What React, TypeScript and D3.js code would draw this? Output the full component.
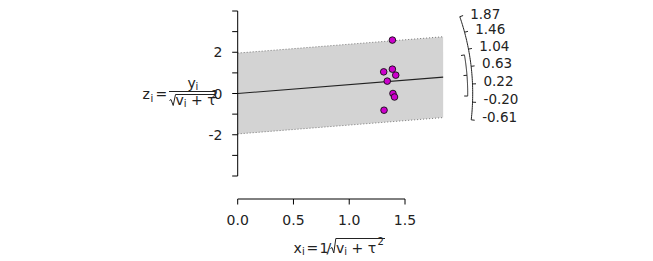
import React from "react";
import * as d3 from "d3";

// ---- data ----
const xiValues = [1.387, 1.309, 1.387, 1.417, 1.341, 1.392, 1.406, 1.312];
const ziValues = [2.59, 1.05, 1.18, 0.89, 0.6, 0.0, -0.17, -0.81];
const estimate = 0.43;
const ciBounds = [-0.06, 0.92];
const arcTickValues = [1.87, 1.46, 1.04, 0.63, 0.22, -0.2, -0.61];
const arcTickLabels = ["1.87", "1.46", "1.04", "0.63", "0.22", "-0.20", "-0.61"];
const yTickValues = [-4, -3, -2, -1, 0, 1, 2, 3, 4];
const yLabelValues = [-2, 0, 2];
const xTickValues = [0, 0.5, 1.0, 1.5];
const xTickLabels = ["0.0", "0.5", "1.0", "1.5"];
const zCrit = 1.96;

const W = 653;
const H = 261;
const FONT = "DejaVu Sans, Verdana, sans-serif";
const FS = 14;
const SUB = 10;

export default function App() {
  const x = d3.scaleLinear().domain([0, 1.5]).range([237.7, 405]);
  const y = d3.scaleLinear().domain([-4, 4]).range([176, 11]);
  const xMax = d3.max(xiValues)! * 1.3;

  const cx = x(0);
  const cy = y(0);
  const sx = x(1) - x(0);
  const sy = y(0) - y(1);
  const ang = (t: number) => Math.atan2(sy * t, sx);
  const pt = (t: number, r: number): [number, number] => {
    const a = ang(t);
    return [cx + r * Math.cos(a), cy - r * Math.sin(a)];
  };
  const arcPath = (t0: number, t1: number, r: number) => {
    const n = 60;
    const pts: [number, number][] = [];
    for (let i = 0; i <= n; i++) pts.push(pt(t0 + ((t1 - t0) * i) / n, r));
    return d3.line()(pts)!;
  };

  const rOuter = 235;
  const rInner = 230;
  const arcMin = d3.min(arcTickValues)!;
  const arcMax = d3.max(arcTickValues)!;

  const band = [
    [x(0), y(zCrit)],
    [x(xMax), y(estimate * xMax + zCrit)],
    [x(xMax), y(estimate * xMax - zCrit)],
    [x(0), y(-zCrit)],
  ] as [number, number][];

  return (
    <svg
      width={W}
      height={H}
      style={{ position: "absolute", left: 0, top: 0, background: "#fff" }}
      fontFamily={FONT}
    >
      <rect x={0} y={0} width={W} height={H} fill="#fff" />
      {/* band */}
      <polygon points={band.map((p) => p.join(",")).join(" ")} fill="#d3d3d3" />
      <line
        x1={x(0)} y1={y(zCrit)} x2={x(xMax)} y2={y(estimate * xMax + zCrit)}
        stroke="#777" strokeWidth={1} strokeDasharray="1 2"
      />
      <line
        x1={x(0)} y1={y(-zCrit)} x2={x(xMax)} y2={y(estimate * xMax - zCrit)}
        stroke="#777" strokeWidth={1} strokeDasharray="1 2"
      />
      {/* estimate line */}
      <line x1={x(0)} y1={y(0)} x2={x(xMax)} y2={y(estimate * xMax)} stroke="#222" strokeWidth={1.1} />

      {/* y axis */}
      <line x1={cx} y1={y(-4)} x2={cx} y2={y(4)} stroke="#000" />
      {yTickValues.map((t) => (
        <line key={t} x1={cx - 5.5} x2={cx} y1={y(t)} y2={y(t)} stroke="#000" />
      ))}
      {yLabelValues.map((t) => (
        <text key={t} x={222.5} y={y(t)} dy="0.36em" textAnchor="end" fontSize={FS} fill="#222">
          {String(t)}
        </text>
      ))}

      {/* x axis */}
      <line x1={x(0)} x2={x(1.5)} y1={199} y2={199} stroke="#000" />
      {xTickValues.map((t, i) => (
        <g key={t}>
          <line x1={x(t)} x2={x(t)} y1={199} y2={204.5} stroke="#000" />
          <text x={x(t)} y={220} dy="0.36em" textAnchor="middle" fontSize={FS} fill="#222">
            {xTickLabels[i]}
          </text>
        </g>
      ))}

      {/* points */}
      {xiValues.map((v, i) => (
        <circle key={i} cx={x(v)} cy={y(ziValues[i])} r={3.3} fill="#cc00cc" stroke="#111" strokeWidth={0.9} />
      ))}

      {/* outer arc */}
      <path d={arcPath(arcMin, arcMax, rOuter)} fill="none" stroke="#222" strokeWidth={1} />
      {arcTickValues.map((t, i) => {
        const [x1, y1] = pt(t, rOuter);
        const [x2, y2] = pt(t, rOuter + 3.5);
        const [lx] = pt(t, 246);
        return (
          <g key={t}>
            <line x1={x1} y1={y1} x2={x2} y2={y2} stroke="#222" />
            <text x={lx} y={y1 - 3} dy="0.36em" fontSize={13.5} fill="#222">
              {arcTickLabels[i]}
            </text>
          </g>
        );
      })}

      {/* inner arc (CI) */}
      <path d={arcPath(ciBounds[0], ciBounds[1], rInner)} fill="none" stroke="#222" strokeWidth={1} />
      {[ciBounds[0], estimate, ciBounds[1]].map((t) => {
        const [x1, y1] = pt(t, rInner);
        const [x2, y2] = pt(t, rInner - 3.5);
        return <line key={t} x1={x1} y1={y1} x2={x2} y2={y2} stroke="#222" />;
      })}

      {/* y label formula */}
      <g fill="#222">
        <text x={142.5} y={99} fontSize={FS}>z</text>
        <text x={150.5} y={101.5} fontSize={SUB}>i</text>
        <text x={155.5} y={99} fontSize={FS}>=</text>
        <text x={187.5} y={87.5} fontSize={FS}>y</text>
        <text x={195.5} y={90} fontSize={SUB}>i</text>
        <line x1={169} x2={215} y1={91.5} y2={91.5} stroke="#222" strokeWidth={1.2} />
        <path d="M169.5,100.5 L171,99.5 L173.2,105.5 L175.5,94.5 L215,94.5" fill="none" stroke="#222" strokeWidth={1} />
        <text x={175.5} y={104.5} fontSize={FS}>
          v<tspan fontSize={SUB} dy={2.5}>i</tspan>
          <tspan dy={-2.5}> + τ</tspan>
        </text>
        <text x={211.5} y={98} fontSize={SUB}>2</text>
      </g>

      {/* x label formula */}
      <g fill="#222">
        <text x={293.5} y={252.5} fontSize={FS}>x</text>
        <text x={302} y={255} fontSize={SUB}>i</text>
        <text x={306.5} y={252.5} fontSize={FS}>=</text>
        <text x={319.5} y={252.5} fontSize={FS}>1</text>
        <text x={326.5} y={252.5} fontSize={FS}>/</text>
        <path d="M330.5,248.5 L332,247.5 L333.8,253 L335.8,238.5 L385,238.5" fill="none" stroke="#222" strokeWidth={1} />
        <text x={336} y={252.5} fontSize={FS}>
          v<tspan fontSize={SUB} dy={2.5}>i</tspan>
          <tspan dy={-2.5}> + τ</tspan>
        </text>
        <text x={377.5} y={245} fontSize={SUB}>2</text>
      </g>
    </svg>
  );
}
